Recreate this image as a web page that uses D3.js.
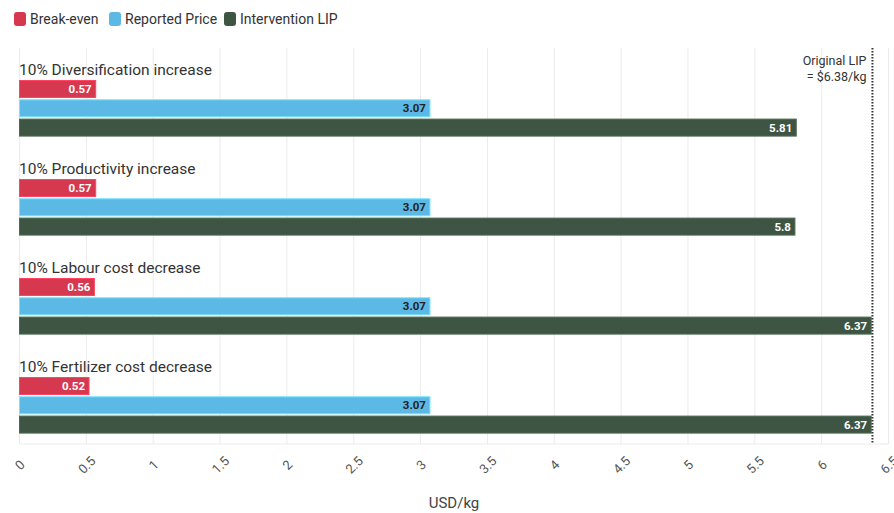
<!DOCTYPE html>
<html><head><meta charset="utf-8">
<script src="https://cdn.jsdelivr.net/npm/d3@7"></script>
<style>body{margin:0;background:#fff;font-family:Roboto,sans-serif}</style>
</head><body><svg id="c" width="894" height="513"></svg>
<script>
const categories = ["10% Diversification increase","10% Productivity increase","10% Labour cost decrease","10% Fertilizer cost decrease"];
const seriesNames = ["Break-even","Reported Price","Intervention LIP"];
const breakEven = [0.57,0.57,0.56,0.52];
const reportedPrice = [3.07,3.07,3.07,3.07];
const interventionLIP = [5.81,5.8,6.37,6.37];
const xTicks = [0,0.5,1,1.5,2,2.5,3,3.5,4,4.5,5,5.5,6,6.5];
const originalLIP = 6.38;
const colors = ["#d5384f","#5cb8e4","#3e5543"];
const labelColors = ["#fff","#222","#fff"];
const series = [breakEven, reportedPrice, interventionLIP];

const svg = d3.select("#c");
const x = d3.scaleLinear().domain([0,6.5]).range([19.5,888.5]);
const top0 = 80.5, groupStep = 99, barH = 17, barStep = 19.3;

// grid
svg.append("g").selectAll("line").data(xTicks).join("line")
  .attr("x1",d=>x(d)).attr("x2",d=>x(d)).attr("y1",48).attr("y2",444)
  .attr("stroke","#ebebeb").attr("stroke-width",1);
svg.append("line").attr("x1",19.5).attr("x2",888.5).attr("y1",444).attr("y2",444).attr("stroke","#ebebeb");

// axis
const axis = svg.append("g").attr("transform","translate(0,444)")
  .call(d3.axisBottom(x).tickValues(xTicks).tickSize(0).tickFormat(d=>String(d)));
axis.select(".domain").remove();
axis.selectAll(".tick text")
  .attr("x",0).attr("y",0).attr("dy",null)
  .attr("transform","translate(0,21) rotate(-45)")
  .attr("text-anchor","middle").attr("dominant-baseline","central")
  .style("font-size","13px").style("fill","#555").style("font-family","Roboto");

svg.append("text").attr("x",x(3.25)).attr("y",508).attr("text-anchor","middle")
  .style("font-size","15px").style("fill","#444").text("USD/kg");

// groups
categories.forEach((cat,gi)=>{
  const gy = top0 + gi*groupStep;
  svg.append("text").attr("x",19).attr("y",gy-6).style("font-size","15.5px").style("fill","#333").text(cat);
  series.forEach((s,si)=>{
    const y = gy + si*barStep;
    const v = s[gi];
    svg.append("rect").attr("x",x(0)).attr("y",y).attr("width",x(v)-x(0)).attr("height",barH)
      .attr("fill",colors[si]).attr("stroke",d3.color(colors[si]).brighter(0.6)).attr("stroke-width",1);
    svg.append("text").attr("x",x(v)-4).attr("y",y+barH/2).attr("dy","0.35em").attr("text-anchor","end")
      .style("font-size","11.5px").style("font-weight","bold").style("fill",labelColors[si]).text(v);
  });
});

// original LIP line
svg.append("line").attr("x1",x(originalLIP)).attr("x2",x(originalLIP)).attr("y1",48).attr("y2",444)
  .attr("stroke","#333").attr("stroke-width",2).attr("stroke-dasharray","1.5,1.5");
svg.append("text").attr("x",x(originalLIP)-6).attr("y",65).attr("text-anchor","end")
  .style("font-size","12.5px").style("fill","#333").text("Original LIP");
svg.append("text").attr("x",x(originalLIP)-6).attr("y",81).attr("text-anchor","end")
  .style("font-size","12.5px").style("fill","#333").text("= $6.38/kg");

// legend
const legX = [14,109,224];
seriesNames.forEach((n,i)=>{
  svg.append("rect").attr("x",legX[i]).attr("y",12).attr("width",12).attr("height",14).attr("rx",3)
    .attr("fill",colors[i]);
  svg.append("text").attr("x",legX[i]+16).attr("y",24).style("font-size","14px").style("fill","#333").text(n);
});
</script></body></html>
